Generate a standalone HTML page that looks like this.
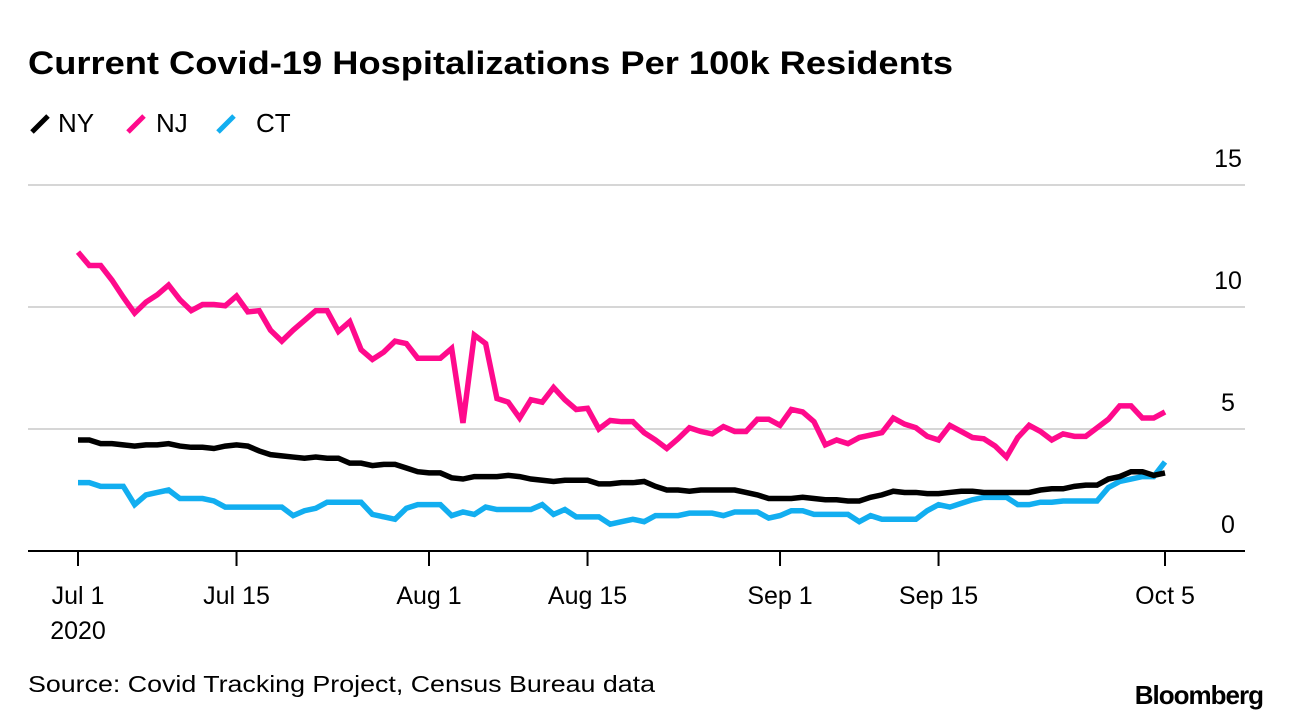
<!DOCTYPE html>
<html><head><meta charset="utf-8"><style>
body{margin:0;background:#fff;width:1292px;height:722px;overflow:hidden;font-family:"Liberation Sans",Arial,sans-serif;}
svg text{font-family:"Liberation Sans",Arial,sans-serif;}
</style></head><body>
<svg id="chart" width="1292" height="722">
<text x="28" y="74" font-size="32" font-weight="bold" fill="#000" textLength="925" lengthAdjust="spacingAndGlyphs">Current Covid-19 Hospitalizations Per 100k Residents</text>
<g>
<line x1="32" y1="132" x2="48" y2="116" stroke="#000" stroke-width="5"/>
<text x="58" y="132" font-size="26">NY</text>
<line x1="128" y1="132" x2="144" y2="116" stroke="#ff0a8c" stroke-width="5"/>
<text x="156" y="132" font-size="26">NJ</text>
<line x1="218" y1="132" x2="234" y2="116" stroke="#12aef0" stroke-width="5"/>
<text x="256" y="132" font-size="26">CT</text>
</g>
<g id="grid"></g>
<g id="series"></g>
<g id="xaxis"></g>
<text x="28" y="692" font-size="23" textLength="627" lengthAdjust="spacingAndGlyphs">Source: Covid Tracking Project, Census Bureau data</text>
<text x="1263" y="704" font-size="26" font-weight="bold" text-anchor="end" letter-spacing="-1">Bloomberg</text>
</svg>
<script>
const yTicks=[0,5,10,15];
const xTickDays=[0,14,31,45,62,76,96];
const xTickLabels=["Jul 1","Jul 15","Aug 1","Aug 15","Sep 1","Sep 15","Oct 5"];
const nj=[12.25,11.7,11.7,11.1,10.4,9.75,10.2,10.5,10.9,10.3,9.85,10.1,10.1,10.05,10.45,9.8,9.85,9.05,8.6,9.05,9.45,9.85,9.85,9.0,9.4,8.25,7.85,8.15,8.6,8.5,7.9,7.9,7.9,8.3,5.25,8.85,8.5,6.25,6.1,5.45,6.2,6.1,6.7,6.2,5.8,5.85,5.0,5.35,5.3,5.3,4.85,4.55,4.2,4.6,5.05,4.9,4.8,5.1,4.9,4.9,5.4,5.4,5.15,5.8,5.7,5.3,4.35,4.55,4.4,4.65,4.75,4.85,5.45,5.2,5.05,4.7,4.55,5.15,4.9,4.65,4.6,4.3,3.85,4.65,5.15,4.9,4.55,4.8,4.7,4.7,5.05,5.4,5.95,5.95,5.45,5.45,5.7];
const ny=[4.55,4.55,4.4,4.4,4.35,4.3,4.35,4.35,4.4,4.3,4.25,4.25,4.2,4.3,4.35,4.3,4.1,3.95,3.9,3.85,3.8,3.85,3.8,3.8,3.6,3.6,3.5,3.55,3.55,3.4,3.25,3.2,3.2,3.0,2.95,3.05,3.05,3.05,3.1,3.05,2.95,2.9,2.85,2.9,2.9,2.9,2.75,2.75,2.8,2.8,2.85,2.65,2.5,2.5,2.45,2.5,2.5,2.5,2.5,2.4,2.3,2.15,2.15,2.15,2.2,2.15,2.1,2.1,2.05,2.05,2.2,2.3,2.45,2.4,2.4,2.35,2.35,2.4,2.45,2.45,2.4,2.4,2.4,2.4,2.4,2.5,2.55,2.55,2.65,2.7,2.7,2.95,3.05,3.25,3.25,3.1,3.2];
const ct=[2.8,2.8,2.65,2.65,2.65,1.9,2.3,2.4,2.5,2.15,2.15,2.15,2.05,1.8,1.8,1.8,1.8,1.8,1.8,1.45,1.65,1.75,2.0,2.0,2.0,2.0,1.5,1.4,1.3,1.75,1.9,1.9,1.9,1.45,1.6,1.5,1.8,1.7,1.7,1.7,1.7,1.9,1.5,1.7,1.4,1.4,1.4,1.1,1.2,1.3,1.2,1.45,1.45,1.45,1.55,1.55,1.55,1.45,1.6,1.6,1.6,1.35,1.45,1.65,1.65,1.5,1.5,1.5,1.5,1.2,1.45,1.3,1.3,1.3,1.3,1.65,1.9,1.8,1.95,2.1,2.2,2.2,2.2,1.9,1.9,2.0,2.0,2.05,2.05,2.05,2.05,2.6,2.85,2.95,3.05,3.05,3.65];
const NS="http://www.w3.org/2000/svg";
const x=d=>78+d*(1165-78)/96;
const y=v=>551-v*(551-185)/15;
function mk(tag,attrs,parent){const e=document.createElementNS(NS,tag);for(const k in attrs)e.setAttribute(k,attrs[k]);parent.appendChild(e);return e;}
const grid=document.getElementById('grid');
yTicks.forEach(t=>{
  if(t>0){const l=mk('line',{x1:28,x2:1245,y1:y(t),y2:y(t),stroke:'#d6d6d6','stroke-width':2},grid);
  
  }
  const tx=mk('text',{x:1228,y:y(t)-18,'font-size':25,'text-anchor':'middle'},grid);
  tx.textContent=t;
  
  
});
const ser=document.getElementById('series');
[[ct,'#12aef0','ct'],[ny,'#000','ny'],[nj,'#ff0a8c','nj']].forEach(([arr,c,n])=>{
  const p=mk('polyline',{points:arr.map((v,i)=>x(i)+','+y(v)).join(' '),fill:'none',stroke:c,'stroke-width':5.5,'stroke-linejoin':'miter'},ser);
  
  
});
const xa=document.getElementById('xaxis');
const ax=mk('line',{x1:28,x2:1245,y1:551,y2:551,stroke:'#000','stroke-width':2},xa);


xTickDays.forEach((d,i)=>{
  const tk=mk('line',{x1:x(d),x2:x(d),y1:551,y2:566,stroke:'#000','stroke-width':2},xa);
  
  
  const t=mk('text',{x:x(d),y:604,'font-size':25,'text-anchor':'middle'},xa);
  t.textContent=xTickLabels[i];
  
  
});
const yr=mk('text',{x:x(0),y:639,'font-size':25,'text-anchor':'middle'},xa);
yr.textContent='2020';


</script>
</body></html>
